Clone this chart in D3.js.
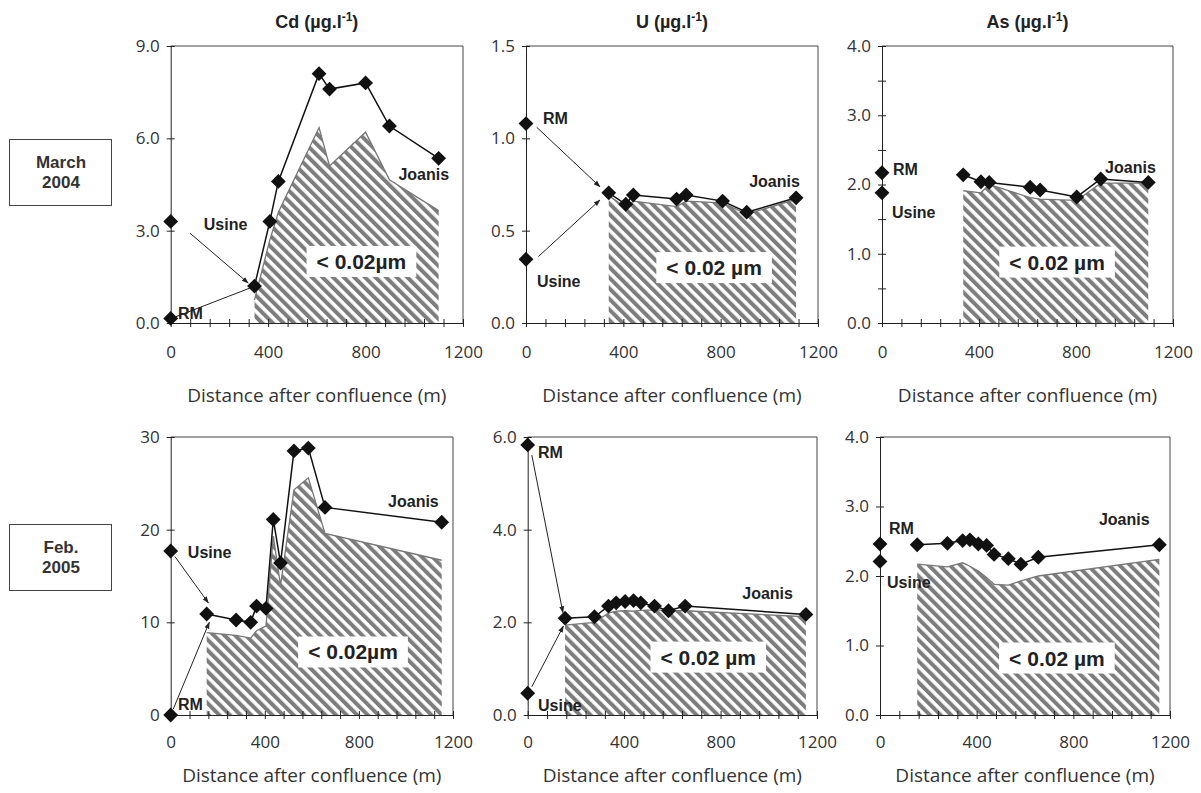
<!DOCTYPE html>
<html><head><meta charset="utf-8">
<script src="https://cdn.jsdelivr.net/npm/d3@7"></script>
<style>body{margin:0;background:#fff}svg{display:block}</style>
</head><body>
<svg id="chart" width="1201" height="793"></svg>
<script>
// ---------- DATA ----------
const elements = ["Cd", "U", "As"];
const campaigns = ["March\n2004", "Feb.\n2005"];
const xTickLabels = [0, 400, 800, 1200];

// March 2004
const cdMarDist  = [344, 407, 442, 609, 652, 800, 898, 1100];
const cdMarTotal = [1.2, 3.3, 4.6, 8.1, 7.6, 7.8, 6.4, 5.35];
const cdMarFilt  = [0.75, 2.7, 3.6, 6.35, 5.1, 6.2, 4.65, 3.65];
const cdMarRM = 0.15, cdMarUsine = 3.3;

const uMarDist  = [340, 410, 441, 619, 658, 808, 907, 1110];
const uMarTotal = [0.705, 0.643, 0.693, 0.671, 0.693, 0.66, 0.60, 0.678];
const uMarFilt  = [0.69, 0.625, 0.66, 0.63, 0.66, 0.65, 0.59, 0.67];
const uMarRM = 1.08, uMarUsine = 0.345;

const asMarDist  = [335, 408, 442, 611, 652, 803, 902, 1098];
const asMarTotal = [2.14, 2.04, 2.03, 1.96, 1.92, 1.82, 2.08, 2.03];
const asMarFilt  = [1.91, 1.88, 2.0, 1.81, 1.79, 1.77, 2.02, 2.02];
const asMarRM = 2.17, asMarUsine = 1.88;

// Feb 2005
const cdFebDist  = [153, 278, 340, 365, 405, 436, 467, 524, 585, 656, 1152];
const cdFebTotal = [10.9, 10.25, 10.0, 11.75, 11.5, 21.1, 16.4, 28.5, 28.8, 22.4, 20.8];
const cdFebFilt  = [8.9, 8.6, 8.3, 9.1, 9.6, 19.3, 14.0, 24.3, 25.6, 19.6, 16.7];
const cdFebRM = 0.0, cdFebUsine = 17.7;

const uFebDist  = [155, 277, 335, 367, 404, 439, 469, 526, 584, 653, 1154];
const uFebTotal = [2.09, 2.12, 2.35, 2.42, 2.45, 2.47, 2.42, 2.35, 2.25, 2.35, 2.17];
const uFebFilt  = [1.94, 2.0, 2.2, 2.24, 2.25, 2.24, 2.26, 2.27, 2.26, 2.25, 2.12];
const uFebRM = 5.83, uFebUsine = 0.47;

const asFebDist  = [154, 279, 342, 372, 407, 441, 472, 531, 583, 655, 1156];
const asFebTotal = [2.45, 2.47, 2.51, 2.52, 2.46, 2.44, 2.31, 2.25, 2.17, 2.27, 2.45];
const asFebFilt  = [2.17, 2.13, 2.19, 2.14, 2.07, 1.98, 1.88, 1.87, 1.93, 2.0, 2.24];
const asFebRM = 2.46, asFebUsine = 2.21;

// ---------- LAYOUT ----------
const svg = d3.select("#chart");
const defs = svg.append("defs");
const pat = defs.append("pattern").attr("id", "hatch").attr("patternUnits", "userSpaceOnUse")
  .attr("width", 7.5).attr("height", 7.5).attr("patternTransform", "rotate(-45)");
pat.append("rect").attr("width", 7.5).attr("height", 7.5).attr("fill", "#fff");
pat.append("rect").attr("width", 4).attr("height", 7.5).attr("fill", "#7d7d7d");
const mk = defs.append("marker").attr("id", "arrow").attr("viewBox", "0 0 10 10")
  .attr("refX", 9).attr("refY", 5).attr("markerWidth", 7).attr("markerHeight", 7)
  .attr("orient", "auto-start-reverse").attr("markerUnits", "userSpaceOnUse");
mk.append("path").attr("d", "M0,1.5 L10,5 L0,8.5 Z").attr("fill", "#222");

const rows = [
  {top: 46, bottom: 323, tickPad: 19, titleY: 402},
  {top: 437, bottom: 715, tickPad: 17, titleY: 782}
];

const panels = [
  {row: 0, left: 170.7, right: 463, ymax: 9, yStep: 3, fmt: ".1f",
   dist: cdMarDist, total: cdMarTotal, filt: cdMarFilt, rm: cdMarRM, usine: cdMarUsine,
   box: {x: 783, y: 2.0, t: "< 0.02µm"},
   labels: [{t: "Usine", x: 136, y: 3.02}, {t: "RM", x: 30, y: 0.13}, {t: "Joanis", x: 935, y: 4.64}],
   arrows: [{x1: 79, y1: 2.92, x2: 318, y2: 1.3, head: true}, {x1: 20, y1: 0.2, x2: 330, y2: 1.15, head: false}]},
  {row: 0, left: 526, right: 818, ymax: 1.5, yStep: 0.5, fmt: ".1f",
   dist: uMarDist, total: uMarTotal, filt: uMarFilt, rm: uMarRM, usine: uMarUsine,
   box: {x: 773, y: 0.30, t: "< 0.02 µm"},
   labels: [{t: "RM", x: 70, y: 1.077}, {t: "Usine", x: 45, y: 0.195}, {t: "Joanis", x: 917, y: 0.736}],
   arrows: [{x1: 44, y1: 1.06, x2: 304, y2: 0.738, head: true}, {x1: 51, y1: 0.36, x2: 304, y2: 0.666, head: true}]},
  {row: 0, left: 882, right: 1173, ymax: 4, yStep: 1, yMinor: 0.5, fmt: ".1f",
   dist: asMarDist, total: asMarTotal, filt: asMarFilt, rm: asMarRM, usine: asMarUsine,
   box: {x: 722, y: 0.88, t: "< 0.02 µm"},
   labels: [{t: "RM", x: 45, y: 2.14}, {t: "Usine", x: 41, y: 1.52}, {t: "Joanis", x: 920, y: 2.17}],
   arrows: []},
  {row: 1, left: 170.7, right: 453, ymax: 30, yStep: 10, fmt: "d",
   dist: cdFebDist, total: cdFebTotal, filt: cdFebFilt, rm: cdFebRM, usine: cdFebUsine,
   box: {x: 775, y: 6.8, t: "< 0.02µm"},
   labels: [{t: "Usine", x: 73, y: 16.9}, {t: "RM", x: 31, y: 0.5}, {t: "Joanis", x: 924, y: 22.5}],
   arrows: [{x1: 18, y1: 17.1, x2: 160, y2: 12.1, head: true}, {x1: 11, y1: 0.65, x2: 164, y2: 10.0, head: true}]},
  {row: 1, left: 527.7, right: 817, ymax: 6, yStep: 2, fmt: ".1f",
   dist: uFebDist, total: uFebTotal, filt: uFebFilt, rm: uFebRM, usine: uFebUsine,
   box: {x: 749, y: 1.25, t: "< 0.02 µm"},
   labels: [{t: "RM", x: 43, y: 5.55}, {t: "Usine", x: 43, y: 0.09}, {t: "Joanis", x: 890, y: 2.50}],
   arrows: [{x1: 17, y1: 5.61, x2: 146, y2: 2.21, head: true}, {x1: 17, y1: 0.61, x2: 148, y2: 1.92, head: true}]},
  {row: 1, left: 880, right: 1170, ymax: 4, yStep: 1, fmt: ".1f",
   dist: asFebDist, total: asFebTotal, filt: asFebFilt, rm: asFebRM, usine: asFebUsine,
   box: {x: 732, y: 0.82, t: "< 0.02 µm"},
   labels: [{t: "RM", x: 37, y: 2.61}, {t: "Usine", x: 29, y: 1.83}, {t: "Joanis", x: 906, y: 2.73}],
   arrows: []}
];

const tickFont = "'Open Sans', sans-serif";
const boldFont = "'Liberation Sans', Arial, sans-serif";

panels.forEach((p, i) => {
  const r = rows[p.row];
  const x = d3.scaleLinear().domain([0, 1200]).range([p.left, p.right]);
  const y = d3.scaleLinear().domain([0, p.ymax]).range([r.bottom, r.top]);
  const g = svg.append("g");
  const pts = p.dist.map((d, k) => ({d, v: p.total[k], f: p.filt[k]}));

  // hatched area (< 0.02 µm)
  g.append("path").datum(pts)
    .attr("d", d3.area().x(d => x(d.d)).y0(y(0)).y1(d => y(d.f)))
    .attr("fill", "url(#hatch)");
  g.append("path").datum(pts)
    .attr("d", d3.line().x(d => x(d.d)).y(d => y(d.f)))
    .attr("fill", "none").attr("stroke", "#777").attr("stroke-width", 1.3);

  // frame (top & right)
  g.append("path").attr("d", `M${x(0)},${y(p.ymax)}H${x(1200)}V${y(0)}`)
    .attr("fill", "none").attr("stroke", "#444").attr("stroke-width", 1);

  // x axis
  const xa = g.append("g").attr("transform", `translate(0,${y(0)})`)
    .call(d3.axisBottom(x).tickValues(d3.range(0, 1201, 80))
      .tickFormat(d => xTickLabels.includes(d) ? d : "").tickSize(4).tickPadding(r.tickPad).tickSizeOuter(0));
  xa.selectAll(".tick line").attr("y1", -4).attr("stroke", "#222");
  xa.select(".domain").attr("stroke", "#222");
  xa.selectAll("text").attr("font-family", tickFont).attr("font-size", 17).attr("fill", "#333");

  // y axis
  const yt = d3.range(0, p.ymax + 1e-9, p.yMinor || p.yStep);
  const ya = g.append("g").attr("transform", `translate(${x(0)},0)`)
    .call(d3.axisLeft(y).tickValues(yt)
      .tickFormat(d => (Math.abs(d / p.yStep - Math.round(d / p.yStep)) < 1e-6) ? d3.format(p.fmt)(d) : "")
      .tickSize(4).tickPadding(7).tickSizeOuter(0));
  ya.selectAll(".tick line").attr("x1", 4).attr("stroke", "#222");
  ya.select(".domain").attr("stroke", "#222");
  ya.selectAll("text").attr("font-family", tickFont).attr("font-size", 17).attr("fill", "#333");

  // arrows
  p.arrows.forEach(a => {
    g.append("line").attr("x1", x(a.x1)).attr("y1", y(a.y1)).attr("x2", x(a.x2)).attr("y2", y(a.y2))
      .attr("stroke", "#222").attr("stroke-width", 1)
      .attr("marker-end", a.head ? "url(#arrow)" : null);
  });

  // total line
  g.append("path").datum(pts)
    .attr("d", d3.line().x(d => x(d.d)).y(d => y(d.v)))
    .attr("fill", "none").attr("stroke", "#111").attr("stroke-width", 1.5);

  // markers
  const sym = d3.symbol().type(d3.symbolSquare).size(110);
  const mpts = pts.map(d => ({d: d.d, v: d.v})).concat([{d: 0, v: p.rm}, {d: 0, v: p.usine}]);
  g.selectAll("path.mk").data(mpts).join("path").attr("class", "mk")
    .attr("d", sym).attr("transform", d => `translate(${x(d.d)},${y(d.v)}) rotate(45)`)
    .attr("fill", "#111");

  // labels
  p.labels.forEach(l => {
    g.append("text").attr("x", x(l.x)).attr("y", y(l.y)).text(l.t)
      .attr("font-family", boldFont).attr("font-weight", "bold").attr("font-size", 16).attr("fill", "#222");
  });

  // size-fraction box
  const bt = g.append("text").attr("x", x(p.box.x)).attr("y", y(p.box.y)).text(p.box.t)
    .attr("font-family", boldFont).attr("font-weight", "bold").attr("font-size", 21).attr("fill", "#222")
    .attr("text-anchor", "middle").attr("dominant-baseline", "central");
  const bb = bt.node().getBBox();
  g.insert("rect", () => bt.node()).attr("x", bb.x - 10).attr("y", bb.y - 4)
    .attr("width", bb.width + 20).attr("height", bb.height + 8).attr("fill", "#fff");

  // titles
  if (p.row === 0) {
    const t = svg.append("text").attr("x", (p.left + p.right) / 2).attr("y", 28)
      .attr("text-anchor", "middle").attr("font-family", boldFont).attr("font-weight", "bold")
      .attr("font-size", 18).attr("fill", "#222");
    t.append("tspan").text(elements[i] + " (µg.l");
    t.append("tspan").text("-1").attr("font-size", 12).attr("dy", -7);
    t.append("tspan").text(")").attr("dy", 7);
  }
  svg.append("text").attr("x", (p.left + p.right) / 2).attr("y", r.titleY)
    .attr("text-anchor", "middle").attr("font-family", tickFont).attr("font-size", 19).attr("fill", "#333")
    .text("Distance after confluence (m)");
});

// row labels
const rowBoxes = [{y: 139}, {y: 524}];
campaigns.forEach((c, k) => {
  const b = rowBoxes[k];
  svg.append("rect").attr("x", 9.5).attr("y", b.y + 0.5).attr("width", 102).attr("height", 66)
    .attr("fill", "#fff").attr("stroke", "#444");
  c.split("\n").forEach((line, j) => {
    svg.append("text").attr("x", 61).attr("y", b.y + 29 + j * 20).attr("text-anchor", "middle")
      .attr("font-family", boldFont).attr("font-weight", "bold").attr("font-size", 17).attr("fill", "#333")
      .text(line);
  });
});
</script>
</body></html>
